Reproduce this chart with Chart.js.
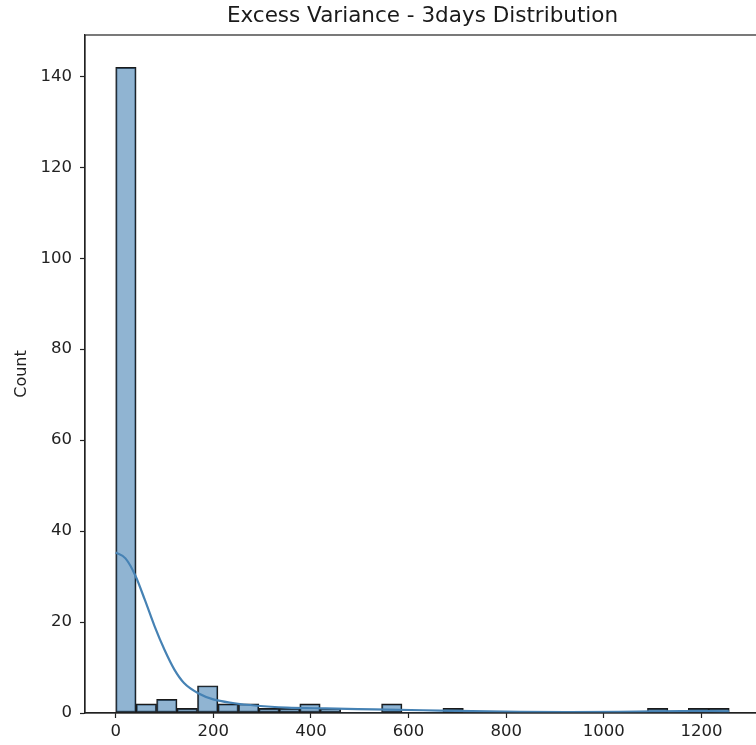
<!DOCTYPE html>
<html>
<head>
<meta charset="utf-8">
<script src="https://cdn.jsdelivr.net/npm/chart.js@4"></script>
<style>
  html, body { margin: 0; padding: 0; background: #fff; overflow: hidden; }
  #wrap { position: absolute; left: 0; top: 0; width: 762px; height: 745px; }
</style>
</head>
<body>
<div id="wrap"><canvas id="grafico-hist"></canvas></div>
<script>
// bordas dos bins do histograma (30 bins)
const binEdges = [0, 41.9, 83.8, 125.7, 167.6, 209.5, 251.4, 293.3, 335.2, 377.1, 419,
    460.9, 502.8, 544.7, 586.6, 628.5, 670.4, 712.3, 754.2, 796.1, 838, 879.9,
    921.8, 963.7, 1005.6, 1047.5, 1089.4, 1131.3, 1173.2, 1215.1, 1257];

// contagens de cada bin
const counts = [142, 2, 3, 1, 6, 2, 2, 1, 1, 2, 1, 0, 0, 2, 0,
    0, 1, 0, 0, 0, 0, 0, 0, 0, 0, 0, 1, 0, 1, 1];

// curva KDE
const kdeX = [0, 20, 40, 60, 80, 100, 120, 140, 170, 200, 240, 290, 350, 430,
    530, 630, 730, 830, 930, 1030, 1100, 1160, 1220, 1257];
const kdeY = [35.3, 34.0, 30.3, 24.8, 19.0, 13.9, 9.6, 6.6, 4.3, 3.0, 2.2, 1.6, 1.2, 1.0,
    0.8, 0.6, 0.4, 0.25, 0.2, 0.25, 0.35, 0.4, 0.4, 0.35];

const xTicks = [0, 200, 400, 600, 800, 1000, 1200];
const yTicks = [0, 20, 40, 60, 80, 100, 120, 140];

const barData = counts.map((c, i) => ({ x: (binEdges[i] + binEdges[i + 1]) / 2, y: c }));
const kdeData = kdeX.map((x, i) => ({ x: x, y: kdeY[i] }));

const fonte = "'DejaVu Sans', sans-serif";

// moldura (spines de cima e da direita)
const moldura = {
    id: 'moldura',
    afterDraw(chart) {
        const a = chart.chartArea;
        const ctx = chart.ctx;
        ctx.save();
        ctx.strokeStyle = '#222';
        ctx.lineWidth = 1.2;
        ctx.strokeRect(a.left, a.top, a.right - a.left, a.bottom - a.top);
        ctx.restore();
    }
};

const chart = new Chart(document.getElementById('grafico-hist'), {
    type: 'bar',
    data: {
        datasets: [
            {
                type: 'line',
                label: 'kde',
                data: kdeData,
                borderColor: '#4682b4',
                borderWidth: 2.2,
                pointRadius: 0,
                tension: 0.4,
                cubicInterpolationMode: 'monotone',
                fill: false,
                order: 0
            },
            {
                type: 'bar',
                label: 'Count',
                data: barData,
                backgroundColor: 'rgba(70,130,180,0.6)',
                borderColor: '#1a1a1a',
                borderWidth: ctx => (ctx.raw && ctx.raw.y > 0 ? 1.3 : 0),
                borderSkipped: false,
                barPercentage: 1,
                categoryPercentage: 1,
                order: 1
            }
        ]
    },
    options: {
        responsive: true,
        maintainAspectRatio: false,
        animation: false,
        layout: { padding: { left: 0, right: 2, top: 0, bottom: 0 } },
        plugins: {
            legend: { display: false },
            tooltip: { enabled: false },
            title: {
                display: true,
                text: 'Excess Variance - 3days Distribution',
                fullSize: false,
                color: '#1a1a1a',
                font: { family: fonte, size: 21.5, weight: 'normal' },
                padding: { top: 4, bottom: 5.2 }
            }
        },
        scales: {
            x: {
                type: 'linear',
                offset: false,
                min: -62.85,
                max: 1320,
                afterBuildTicks: s => { s.ticks = xTicks.map(v => ({ value: v })); },
                afterFit: s => { s.height = 32; },
                grid: { display: true, offset: false, drawOnChartArea: false, tickLength: 5, tickColor: '#222', tickWidth: 1.2 },
                border: { display: true, color: '#222', width: 1.2 },
                ticks: { color: '#222', font: { family: fonte, size: 16.5 }, padding: 4, maxRotation: 0, callback: v => String(v) }
            },
            y: {
                min: 0,
                max: 149.1,
                afterBuildTicks: s => { s.ticks = yTicks.map(v => ({ value: v })); },
                afterFit: s => { s.width = 85; },
                grid: { display: true, drawOnChartArea: false, tickLength: 5, tickColor: '#222', tickWidth: 1.2 },
                border: { display: true, color: '#222', width: 1.2 },
                ticks: { color: '#222', font: { family: fonte, size: 16.5 }, padding: 8, callback: v => String(v) },
                title: {
                    display: true,
                    text: 'Count',
                    color: '#222',
                    font: { family: fonte, size: 16 },
                    padding: { top: 12.5, bottom: 4 }
                }
            }
        }
    },
    plugins: [moldura]
});
</script>
</body>
</html>
